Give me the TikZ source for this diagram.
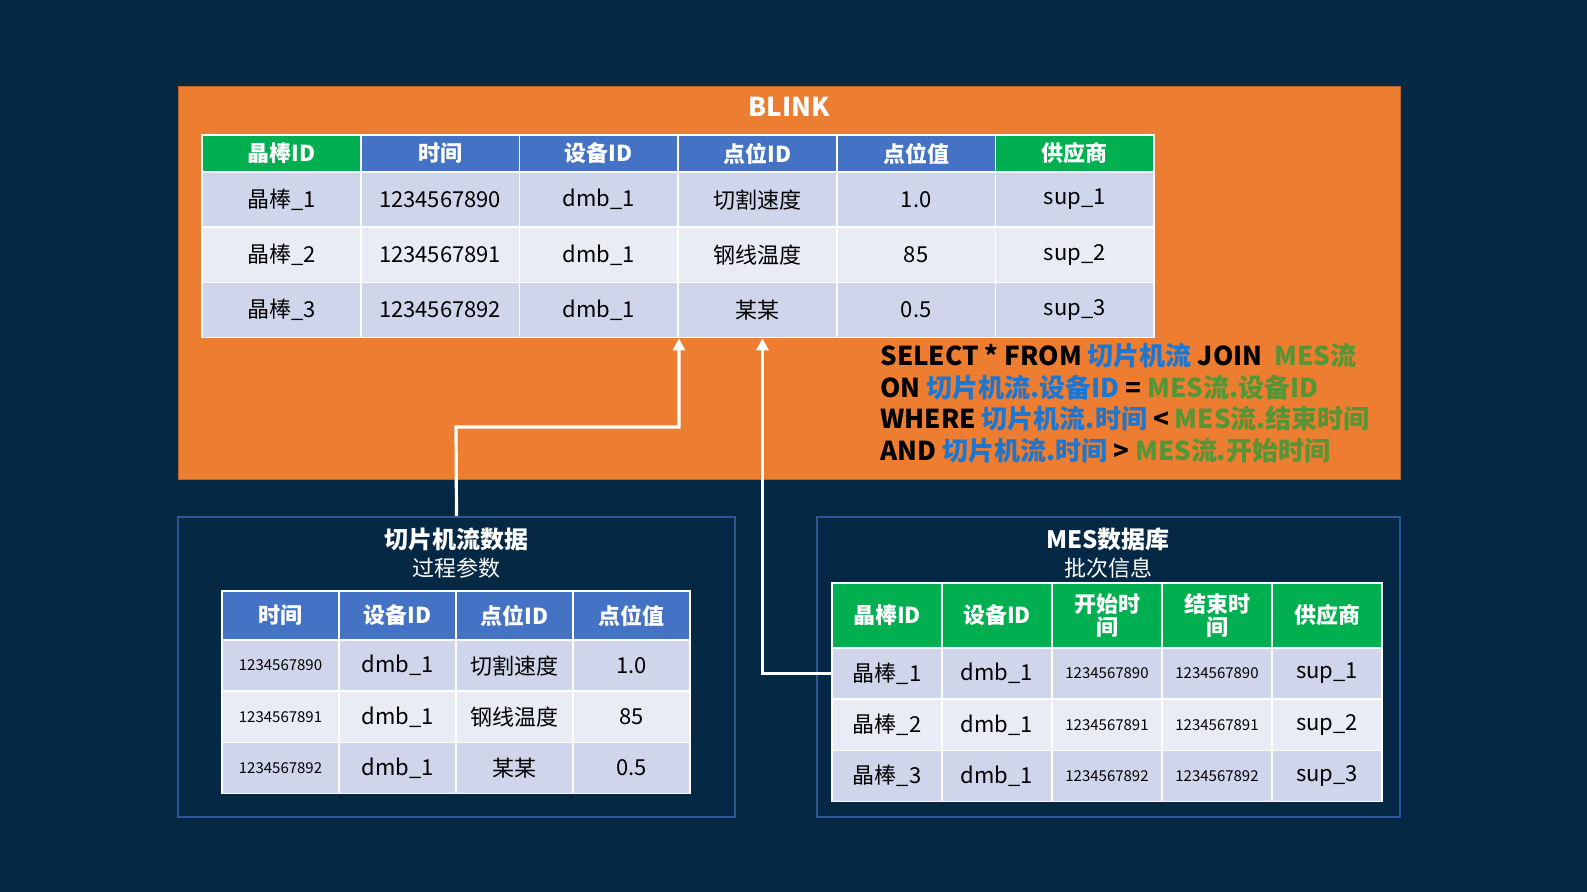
\documentclass[tikz,border=0pt]{standalone}
\usepackage{fontspec}
\setmainfont{Noto Sans CJK SC}
\usetikzlibrary{arrows.meta,calc}
\definecolor{bg}{RGB}{5,41,68}
\definecolor{org}{RGB}{237,125,49}
\definecolor{hgreen}{RGB}{0,176,80}
\definecolor{hblue}{RGB}{68,114,196}
\definecolor{rowA}{RGB}{207,213,234}
\definecolor{rowB}{RGB}{233,235,245}
\definecolor{frame}{RGB}{47,85,151}
\definecolor{sqlblue}{RGB}{31,118,206}
\definecolor{sqlgreen}{RGB}{84,150,53}
\begin{document}
\begin{tikzpicture}[x=0.5pt,y=-0.5pt,
 cell/.style={draw=white,line width=0.8pt,inner sep=0pt,anchor=center,align=center,font=\fontsize{11}{12}\selectfont},
 hcell/.style={cell,text=white,font=\fontsize{11}{12}\selectfont\bfseries},
 panel/.style={draw=frame,line width=1pt},
 conn/.style={draw=white,line width=1.6pt,-{Triangle[width=6pt,length=6pt]}}]
\fill[bg] (0,0) rectangle (1587,892);
\useasboundingbox (0,0) rectangle (1587,892);
% BLINK panel
\node[fill=org,draw=org!80!black,minimum width=611pt,minimum height=196.5pt,inner sep=0pt] (B) at (789,282.5) {};
\node[text=white,font=\fontsize{13}{14}\selectfont\bfseries] (Bt) at (789,107) {BLINK};
\foreach \c/\t [count=\i] in {hgreen/晶棒ID,hblue/时间,hblue/设备ID,hblue/点位ID,hblue/点位值,hgreen/供应商}
  \node[hcell,fill=\c,minimum width=79.35pt,minimum height=18.5pt] (T-0-\i) at ({202+79.35+158.7*(\i-1)},153.5) {\t};
\foreach \r/\f/\a/\b/\d/\e/\g in {1/rowA/1234567890/切割速度/1.0/sup\_1/晶棒\_1,2/rowB/1234567891/钢线温度/85/sup\_2/晶棒\_2,3/rowA/1234567892/某某/0.5/sup\_3/晶棒\_3}{
  \foreach \t [count=\i] in {\g,\a,dmb\_1,\b,\d,\e}
   \node[cell,fill=\f,minimum width=79.35pt,minimum height=27.6pt] (T-\r-\i) at ({202+79.35+158.7*(\i-1)},{172+27.6+55.2*(\r-1)}) {\t};
}
% SQL
\node[anchor=north west,align=left,inner sep=0pt,font=\fontsize{13}{15.8}\selectfont\bfseries] (sql) at (880,343) {%
SELECT * FROM \textcolor{sqlblue}{切片机流} JOIN \ \textcolor{sqlgreen}{MES流}\\
ON \textcolor{sqlblue}{切片机流.设备ID} = \textcolor{sqlgreen}{MES流.设备ID}\\
WHERE \textcolor{sqlblue}{切片机流.时间} < \textcolor{sqlgreen}{MES流.结束时间}\\
AND \textcolor{sqlblue}{切片机流.时间} > \textcolor{sqlgreen}{MES流.开始时间}};
% left panel
\node[panel,minimum width=278.5pt,minimum height=150pt,inner sep=0pt] (L) at (456.5,667) {};
\node[text=white,font=\fontsize{12}{13}\selectfont\bfseries] (Lt) at (456,539) {切片机流数据};
\node[text=white,font=\fontsize{11}{12}\selectfont] (Ls) at (456,568) {过程参数};
\foreach \t [count=\i] in {时间,设备ID,点位ID,点位值}
  \node[hcell,fill=hblue,minimum width=58.5pt,minimum height=24.5pt] (P-0-\i) at ({222+58.5+117*(\i-1)},615.5) {\t};
\foreach \r/\f/\a/\b/\d in {1/rowA/1234567890/切割速度/1.0,2/rowB/1234567891/钢线温度/85,3/rowA/1234567892/某某/0.5}{
  \foreach \t [count=\i] in {{\fontsize{7.5}{8}\selectfont\a},dmb\_1,\b,\d}
   \node[cell,fill=\f,minimum width=58.5pt,minimum height=25.6pt] (P-\r-\i) at ({222+58.5+117*(\i-1)},{640+25.6+51.2*(\r-1)}) {\t};
}
% right panel
\node[panel,minimum width=291.5pt,minimum height=150pt,inner sep=0pt] (M) at (1108.5,667) {};
\node[text=white,font=\fontsize{12}{13}\selectfont\bfseries] (Mt) at (1108,539) {MES数据库};
\node[text=white,font=\fontsize{11}{12}\selectfont] (Ms) at (1108,568) {批次信息};
\foreach \t [count=\i] in {晶棒ID,设备ID,开始时\\间,结束时\\间,供应商}
  \node[hcell,fill=hgreen,minimum width=55pt,minimum height=32.5pt,font=\fontsize{11}{11.5}\selectfont\bfseries] (R-0-\i) at ({832+55+110*(\i-1)},615.5) {\t};
\foreach \r/\f/\a/\e/\g in {1/rowA/1234567890/sup\_1/晶棒\_1,2/rowB/1234567891/sup\_2/晶棒\_2,3/rowA/1234567892/sup\_3/晶棒\_3}{
  \foreach \t [count=\i] in {\g,dmb\_1,{\fontsize{7.5}{8}\selectfont\a},{\fontsize{7.5}{8}\selectfont\a},\e}
   \node[cell,fill=\f,minimum width=55pt,minimum height=25.6pt] (R-\r-\i) at ({832+55+110*(\i-1)},{648+25.6+51.2*(\r-1)}) {\t};
}
% connectors
\coordinate (k1) at (456,427);
\draw[conn] (L.north) -- (k1) -| (T-3-3.south east);
\draw[conn] (R-1-1.west) -| ($(T-3-4.south)+(5,0)$);
\end{tikzpicture}
\end{document}
